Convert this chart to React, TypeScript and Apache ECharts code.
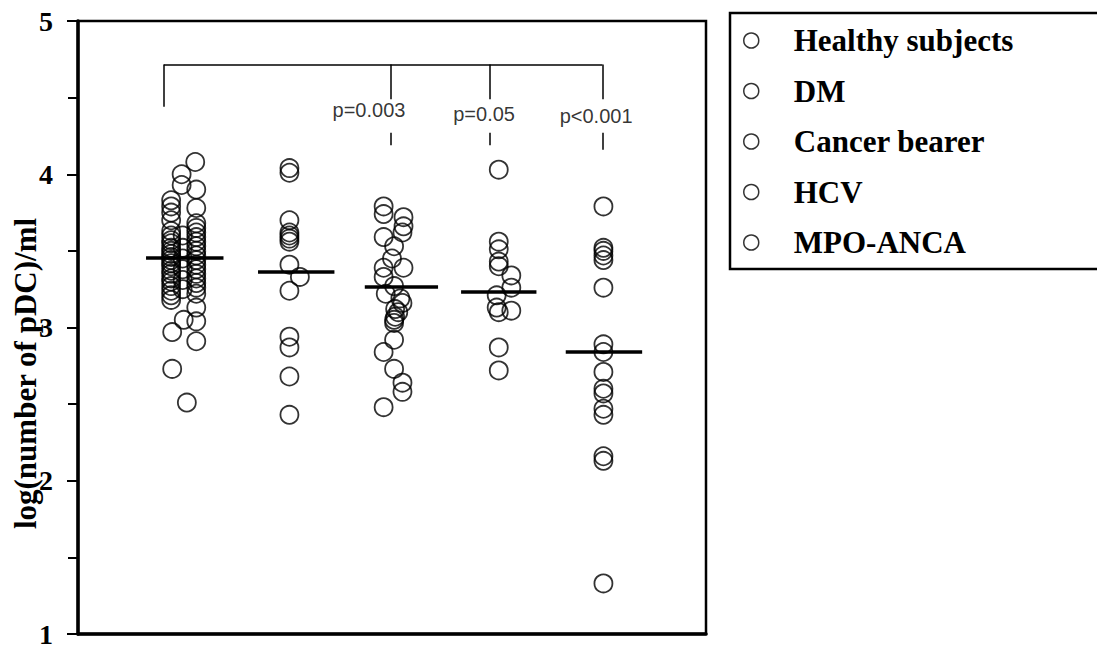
import React, { useEffect, useRef } from "react";
import * as echarts from "echarts";

const groups = ["Healthy subjects", "DM", "Cancer bearer", "HCV", "MPO-ANCA"];

const healthyValues = [
  3.83, 3.79, 3.75, 3.7, 3.63, 3.6, 3.57, 3.55, 3.52, 3.5, 3.48, 3.46, 3.44, 3.42, 3.4, 3.37, 3.35, 3.32, 3.3, 3.27, 3.24, 3.21, 3.18, 2.97, 2.73,
  4.0, 3.93, 3.6, 3.52, 3.45, 3.38, 3.31, 3.25, 3.05, 2.51,
  4.08, 3.9, 3.78, 3.68, 3.65, 3.62, 3.59, 3.56, 3.53, 3.5, 3.47, 3.44, 3.41, 3.38, 3.35, 3.32, 3.29, 3.26, 3.22, 3.13, 3.04, 2.91,
];
const healthyJitter = [
  -0.11, -0.11, -0.11, -0.11, -0.11, -0.11, -0.11, -0.11, -0.11, -0.11, -0.11, -0.11, -0.11, -0.11, -0.11, -0.11, -0.11, -0.11, -0.11, -0.11, -0.11, -0.11, -0.11, -0.1, -0.1,
  -0.01, -0.01, 0, 0, 0, 0, 0, 0, 0.01, 0.04,
  0.12, 0.13, 0.13, 0.13, 0.13, 0.13, 0.13, 0.13, 0.13, 0.13, 0.13, 0.13, 0.13, 0.13, 0.13, 0.13, 0.13, 0.13, 0.13, 0.13, 0.13, 0.13,
];

const dmValues = [4.04, 4.01, 3.7, 3.62, 3.6, 3.58, 3.56, 3.41, 3.33, 3.24, 2.94, 2.87, 2.68, 2.43];
const dmJitter = [0.02, 0.02, 0.02, 0.02, 0.02, 0.02, 0.02, 0.02, 0.12, 0.02, 0.02, 0.02, 0.02, 0.02];

const cancerValues = [
  3.79, 3.74, 3.72, 3.66, 3.62, 3.59, 3.53, 3.45, 3.39, 3.39, 3.33, 3.27, 3.22, 3.19, 3.16, 3.12, 3.1, 3.07, 3.05, 3.03, 2.92, 2.84, 2.73, 2.64, 2.58, 2.48,
];
const cancerJitter = [
  -0.08, -0.08, 0.11, 0.11, 0.1, -0.08, 0.02, 0, -0.08, 0.11, -0.08, 0.02, -0.06, 0.08, 0.1, 0.03, 0.06, 0.03, 0.02, 0.02, 0.02, -0.08, 0.02, 0.1, 0.1, -0.08,
];

const hcvValues = [4.03, 3.56, 3.51, 3.43, 3.4, 3.34, 3.26, 3.21, 3.13, 3.11, 3.1, 2.87, 2.72];
const hcvJitter = [0.02, 0.02, 0.02, 0.02, 0.02, 0.14, 0.14, 0, 0, 0.14, 0.02, 0.02, 0.02];

const mpoValues = [3.79, 3.52, 3.5, 3.47, 3.44, 3.26, 2.89, 2.84, 2.71, 2.6, 2.57, 2.47, 2.43, 2.16, 2.13, 1.33];
const mpoJitter = [0.02, 0.02, 0.02, 0.02, 0.02, 0.02, 0.02, 0.02, 0.02, 0.02, 0.02, 0.02, 0.02, 0.02, 0.02, 0.02];

const medians = [3.455, 3.367, 3.265, 3.236, 2.839];

const yTicks = [1, 2, 3, 4, 5];
const pLabels = ["p=0.003", "p=0.05", "p<0.001"];

// layout (x in group units, group i centred at i+1)
const medianExtent = [
  [0.65, 1.39],
  [1.72, 2.45],
  [2.74, 3.44],
  [3.66, 4.38],
  [4.66, 5.39],
];
const bracketY = 4.716;
const bracketDrops = [
  [0.82, 4.44],
  [2.99, 4.49],
  [3.93, 4.49],
  [5.01, 4.49],
];
const pLabelPos = [
  [2.78, 4.42],
  [3.88, 4.39],
  [4.95, 4.38],
];
const pDashes = [
  [2.99, 4.27, 4.19],
  [3.93, 4.27, 4.19],
  [5.01, 4.27, 4.16],
];

const valueSets = [healthyValues, dmValues, cancerValues, hcvValues, mpoValues];
const jitterSets = [healthyJitter, dmJitter, cancerJitter, hcvJitter, mpoJitter];

const SERIF = "'Liberation Serif', 'Times New Roman', serif";
const SANS = "'Liberation Sans', Arial, sans-serif";

export default function App() {
  const ref = useRef<HTMLDivElement>(null);
  useEffect(() => {
    if (!ref.current) return;
    const chart = echarts.init(ref.current, null, { renderer: "svg" });
    const circleStyle = { color: "rgba(0,0,0,0)", borderColor: "#000", borderWidth: 1.8 };

    const scatterSeries: any[] = groups.map((g, gi) => ({
      name: g,
      type: "scatter",
      symbol: "circle",
      symbolSize: 18,
      itemStyle: circleStyle,
      silent: true,
      data: valueSets[gi].map((v, i) => [gi + 1 + jitterSets[gi][i], v]),
      markLine: {
        silent: true,
        symbol: "none",
        label: { show: false },
        lineStyle: { color: "#000", width: 3.5, type: "solid" },
        data: [
          [
            { coord: [medianExtent[gi][0], medians[gi]] },
            { coord: [medianExtent[gi][1], medians[gi]] },
          ],
        ],
      },
      z: 3,
    }));

    const bracketLines: any[] = [
      [{ coord: [bracketDrops[0][0], bracketY] }, { coord: [bracketDrops[3][0], bracketY] }],
      ...bracketDrops.map((d) => [{ coord: [d[0], bracketY] }, { coord: [d[0], d[1]] }]),
      ...pDashes.map((d) => [{ coord: [d[0], d[1]] }, { coord: [d[0], d[2]] }]),
    ];

    const helper = {
      name: "annot",
      type: "scatter",
      symbolSize: 0,
      silent: true,
      data: pLabels.map((t, i) => ({ value: [pLabelPos[i][0], pLabelPos[i][1]], name: t })),
      label: {
        show: true,
        position: "inside",
        formatter: (p: any) => p.name,
        fontFamily: SANS,
        fontSize: 20,
        color: "#000",
      },
      markLine: {
        silent: true,
        symbol: "none",
        label: { show: false },
        lineStyle: { color: "#000", width: 1.5, type: "solid" },
        data: bracketLines,
      },
    };

    chart.setOption({
      animation: false,
      backgroundColor: "#fff",
      grid: {
        left: 70,
        right: 407,
        top: 13,
        bottom: 24,
        outerBoundsMode: "none",
        containLabel: false,
        show: true,
        borderColor: "#000",
        borderWidth: 2.5,
        backgroundColor: "transparent",
      },
      legend: {
        orient: "vertical",
        left: 730,
        top: 12,
        itemWidth: 15,
        itemHeight: 15,
        itemGap: 19.5,
        icon: "circle",
        selectedMode: false,
        data: groups.map((g) => ({ name: g, itemStyle: { color: "rgba(0,0,0,0)", borderColor: "#000", borderWidth: 1.5 } })),
        textStyle: { fontFamily: SERIF, fontSize: 31, fontWeight: "bold", color: "#000", padding: [0, 0, 0, 30] },
      },
      graphic: [
        {
          type: "rect",
          shape: { x: 722, y: 5, width: 373, height: 256 },
          style: { fill: "none", stroke: "#000", lineWidth: 2.5 },
        },
      ],
      xAxis: {
        type: "value",
        min: 0,
        max: 6,
        axisLine: { show: true, onZero: false, lineStyle: { color: "#000", width: 3.5 } },
        axisTick: { show: false },
        axisLabel: { show: false },
        splitLine: { show: false },
      },
      yAxis: {
        type: "value",
        min: yTicks[0],
        max: yTicks[yTicks.length - 1],
        interval: 1,
        name: "log(number of pDC)/ml",
        nameLocation: "middle",
        nameGap: 37,
        nameMoveOverlap: false,
        nameTextStyle: { fontFamily: SERIF, fontSize: 31, fontWeight: "bold", color: "#000", padding: [0, 92, 0, 0] },
        axisLine: { show: true, lineStyle: { color: "#000", width: 3.5 } },
        axisTick: { show: true, length: 11, lineStyle: { color: "#000", width: 2 } },
        minorTick: { show: true, splitNumber: 2, length: 10, lineStyle: { color: "#000", width: 2 } },
        axisLabel: { fontFamily: SERIF, fontSize: 28, lineHeight: 22, fontWeight: "bold", color: "#000", margin: 25 },
        splitLine: { show: false },
      },
      series: [...scatterSeries, helper],
    });
    return () => chart.dispose();
  }, []);
  return <div ref={ref} style={{ width: 1105, height: 650 }} />;
}
